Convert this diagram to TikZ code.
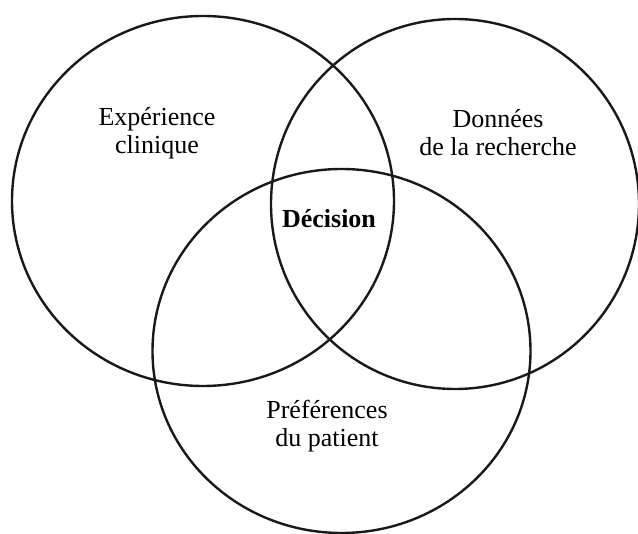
\documentclass[tikz,border=0pt]{standalone}
\usepackage{fontspec}
\setmainfont{Liberation Serif}
\begin{document}
\begin{tikzpicture}[x=1pt,y=-1pt,
  ring/.style={draw=black!90, line width=2.4pt},
  lbl/.style={align=center, inner sep=0pt, font=\fontsize{26}{28}\selectfont}]
\useasboundingbox (0,0) rectangle (638,534);
\coordinate (cL) at (203,201);
\coordinate (cR) at (455,204);
\coordinate (cB) at (341.5,351);
\draw[ring] (cL) ellipse [x radius=191, y radius=185];
\draw[ring] (cR) ellipse [x radius=184, y radius=185];
\draw[ring] (cB) ellipse [x radius=189, y radius=182];
\node[lbl] (exp) at (157,133) {Expérience\\clinique};
\node[lbl] (don) at (498,133) {Données\\de la recherche};
\node[lbl, anchor=base, font=\fontsize{26}{28}\selectfont\bfseries] (dec) at (329,228) {Décision};
\node[lbl] (pref) at (327,426) {Préférences\\du patient};
\end{tikzpicture}
\end{document}
